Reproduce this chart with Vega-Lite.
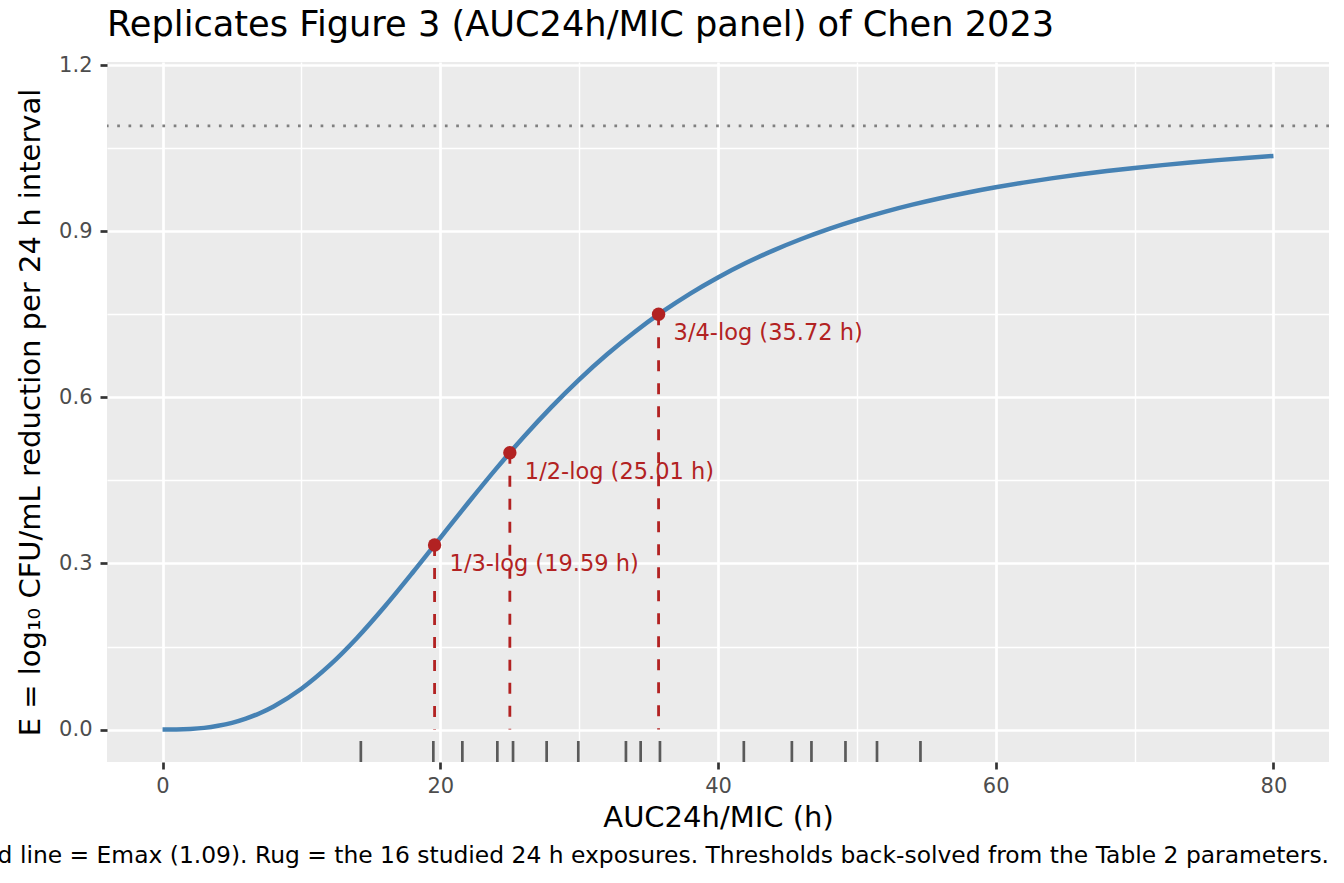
{
  "$schema": "https://vega.github.io/schema/vega-lite/v6.json",
  "autosize": {"type": "none"},
  "width": 1222,
  "height": 700,
  "padding": {"left": 107, "right": 15, "top": 62, "bottom": 121},
  "background": "#FFFFFF",
  "title": {
    "text": "Replicates Figure 3 (AUC24h/MIC panel) of Chen 2023",
    "anchor": "start",
    "frame": "group",
    "font": "DejaVu Sans",
    "fontSize": 35.2,
    "fontWeight": "normal",
    "color": "#000000",
    "baseline": "alphabetic",
    "offset": -17
  },
  "config": {
    "view": {"fill": "#EBEBEB", "stroke": null},
    "font": "DejaVu Sans"
  },
  "datasets": {
    "curve": [
      {"auc": 0, "e": 0},
      {"auc": 1, "e": 0.0002},
      {"auc": 2, "e": 0.0011},
      {"auc": 3, "e": 0.0031},
      {"auc": 4, "e": 0.0068},
      {"auc": 5, "e": 0.0122},
      {"auc": 6, "e": 0.0198},
      {"auc": 7, "e": 0.0296},
      {"auc": 8, "e": 0.0419},
      {"auc": 10, "e": 0.0738},
      {"auc": 12, "e": 0.1154},
      {"auc": 14, "e": 0.1655},
      {"auc": 16, "e": 0.2223},
      {"auc": 18, "e": 0.2833},
      {"auc": 20, "e": 0.3463},
      {"auc": 22, "e": 0.4092},
      {"auc": 24, "e": 0.4704},
      {"auc": 26, "e": 0.5284},
      {"auc": 28, "e": 0.5824},
      {"auc": 30, "e": 0.6321},
      {"auc": 32, "e": 0.6773},
      {"auc": 34, "e": 0.7181},
      {"auc": 36, "e": 0.7546},
      {"auc": 38, "e": 0.7873},
      {"auc": 40, "e": 0.8164},
      {"auc": 42, "e": 0.8424},
      {"auc": 44, "e": 0.8654},
      {"auc": 46, "e": 0.8859},
      {"auc": 48, "e": 0.9042},
      {"auc": 50, "e": 0.9204},
      {"auc": 52, "e": 0.9349},
      {"auc": 54, "e": 0.9479},
      {"auc": 56, "e": 0.9595},
      {"auc": 58, "e": 0.9699},
      {"auc": 60, "e": 0.9793},
      {"auc": 62, "e": 0.9877},
      {"auc": 64, "e": 0.9954},
      {"auc": 66, "e": 1.0023},
      {"auc": 68, "e": 1.0085},
      {"auc": 70, "e": 1.0142},
      {"auc": 72, "e": 1.0193},
      {"auc": 74, "e": 1.024},
      {"auc": 76, "e": 1.0283},
      {"auc": 78, "e": 1.0322},
      {"auc": 80, "e": 1.0358}
    ],
    "thresholds": [
      {"auc": 19.59, "e": 0.3333, "label": "1/3-log (19.59 h)"},
      {"auc": 25.01, "e": 0.5, "label": "1/2-log (25.01 h)"},
      {"auc": 35.72, "e": 0.75, "label": "3/4-log (35.72 h)"}
    ],
    "rug": [
      {"auc": 14.28}, {"auc": 19.5}, {"auc": 21.59}, {"auc": 24.11},
      {"auc": 25.24}, {"auc": 27.66}, {"auc": 29.94}, {"auc": 33.37},
      {"auc": 34.43}, {"auc": 35.82}, {"auc": 41.86}, {"auc": 45.32},
      {"auc": 46.73}, {"auc": 49.18}, {"auc": 51.45}, {"auc": 54.58}
    ],
    "emax": [{"emax": 1.09}],
    "caption": [
      {"note": "Dotted line = Emax (1.09). Rug = the 16 studied 24 h exposures. Thresholds back-solved from the Table 2 parameters."}
    ]
  },
  "layer": [
    {
      "data": {"name": "curve"},
      "mark": {"type": "line", "color": "#4682B4", "strokeWidth": 4.5, "interpolate": "monotone"},
      "encoding": {
        "x": {
          "field": "auc", "type": "quantitative",
          "scale": {"domain": [-4, 84], "nice": false, "zero": false},
          "axis": {
            "orient": "bottom", "values": [0, 10, 20, 30, 40, 50, 60, 70, 80], "format": "d",
            "labelExpr": "datum.value % 20 === 0 ? datum.label : ''",
            "title": "AUC24h/MIC (h)",
            "grid": true, "gridColor": "#FFFFFF",
            "gridWidth": {"condition": {"test": "datum.value % 20 !== 0", "value": 1.4}, "value": 2.7},
            "domain": false,
            "tickColor": "#333333", "tickSize": 7, "tickWidth": 2.7,
            "tickOpacity": {"condition": {"test": "datum.value % 20 !== 0", "value": 0}, "value": 1},
            "labelColor": "#4D4D4D", "labelFontSize": 21, "labelPadding": 6,
            "labelFont": "DejaVu Sans", "labelFlush": false, "labelOverlap": false,
            "titleFont": "DejaVu Sans", "titleFontSize": 29, "titleFontWeight": "normal",
            "titleColor": "#000000", "titlePadding": 7
          }
        },
        "y": {
          "field": "e", "type": "quantitative",
          "scale": {"domain": [-0.0585, 1.2055], "nice": false, "zero": false},
          "axis": {
            "orient": "left", "values": [0, 0.15, 0.3, 0.45, 0.6, 0.75, 0.9, 1.05, 1.2], "format": ".1f",
            "labelExpr": "abs(datum.value / 0.3 - round(datum.value / 0.3)) > 0.1 ? '' : datum.label",
            "title": "E = log₁₀ CFU/mL reduction per 24 h interval",
            "grid": true, "gridColor": "#FFFFFF",
            "gridWidth": {"condition": {"test": "abs(datum.value / 0.3 - round(datum.value / 0.3)) > 0.1", "value": 1.4}, "value": 2.7},
            "domain": false,
            "tickColor": "#333333", "tickSize": 7, "tickWidth": 2.7,
            "tickOpacity": {"condition": {"test": "abs(datum.value / 0.3 - round(datum.value / 0.3)) > 0.1", "value": 0}, "value": 1},
            "labelColor": "#4D4D4D", "labelFontSize": 21, "labelPadding": 8,
            "labelFont": "DejaVu Sans", "labelOverlap": false,
            "titleFont": "DejaVu Sans", "titleFontSize": 29, "titleFontWeight": "normal",
            "titleColor": "#000000", "titlePadding": 13
          }
        }
      }
    },
    {
      "data": {"name": "emax"},
      "mark": {"type": "rule", "color": "#7F7F7F", "strokeWidth": 2.7, "strokeDash": [2.7, 8.6]},
      "encoding": {
        "y": {"field": "emax", "type": "quantitative"}
      }
    },
    {
      "data": {"name": "thresholds"},
      "mark": {"type": "rule", "color": "#B22222", "strokeWidth": 2.8, "strokeDash": [11, 12]},
      "encoding": {
        "x": {"field": "auc", "type": "quantitative"},
        "y": {"field": "e", "type": "quantitative"},
        "y2": {"datum": 0}
      }
    },
    {
      "data": {"name": "thresholds"},
      "mark": {"type": "point", "filled": true, "shape": "circle", "size": 180, "color": "#B22222", "opacity": 1},
      "encoding": {
        "x": {"field": "auc", "type": "quantitative"},
        "y": {"field": "e", "type": "quantitative"}
      }
    },
    {
      "data": {"name": "thresholds"},
      "mark": {"type": "text", "align": "left", "baseline": "alphabetic", "dx": 15, "dy": 26, "fontSize": 22.5, "font": "DejaVu Sans", "color": "#B22222"},
      "encoding": {
        "x": {"field": "auc", "type": "quantitative"},
        "y": {"field": "e", "type": "quantitative"},
        "text": {"field": "label", "type": "nominal"}
      }
    },
    {
      "data": {"name": "rug"},
      "mark": {"type": "tick", "orient": "vertical", "color": "#5A5A5A", "thickness": 2.7, "size": 21, "opacity": 1},
      "encoding": {
        "x": {"field": "auc", "type": "quantitative"},
        "y": {"datum": -0.0395}
      }
    },
    {
      "data": {"name": "caption"},
      "mark": {"type": "text", "align": "right", "baseline": "alphabetic", "fontSize": 23.4, "font": "DejaVu Sans", "color": "#000000", "clip": false},
      "encoding": {
        "x": {"datum": 84},
        "y": {"datum": -0.2409},
        "text": {"field": "note", "type": "nominal"}
      }
    }
  ]
}
